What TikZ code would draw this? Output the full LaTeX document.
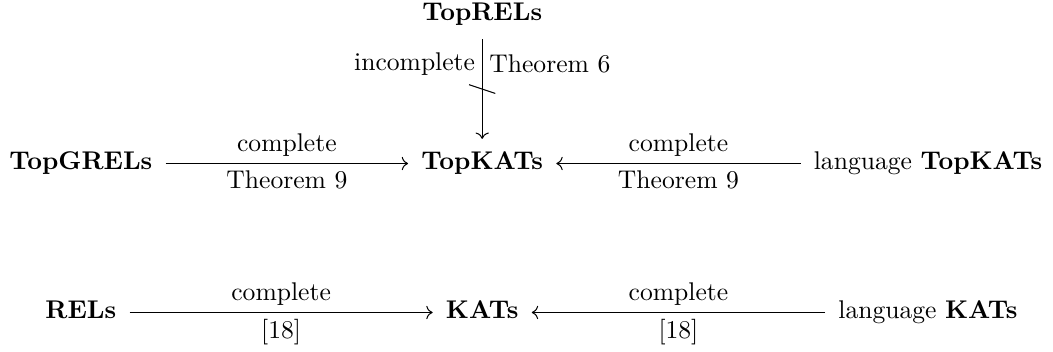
\documentclass[tikz,border=0pt]{standalone}
\usetikzlibrary{arrows.meta}

\begin{document}
\begin{tikzpicture}[every node/.style={align=center},
obj/.style={inner sep=5pt, text height=6.9pt, text depth=1.95pt},
lbl/.style={inner sep=2.6pt}]
\useasboundingbox (0,0) rectangle (14.456,-4.819);
%================================================================
% Objects
% --------------------------------
% Top row
\node[style=obj] (toprels) at (6.62,-0.2) {\textbf{TopRELs}};
% --------------------------------
% Middle row
\node[style=obj] (topgrels) at (1.11,-2.245) {\textbf{TopGRELs}};
\node[style=obj] (topkats) at (6.62,-2.245) {\textbf{TopKATs}};
\node[style=obj] (langtopkats) at (12.74,-2.245) {language \textbf{TopKATs}};
% --------------------------------
% Bottom row
\node[style=obj] (rels) at (1.11,-4.29) {\textbf{RELs}};
\node[style=obj] (kats) at (6.62,-4.29) {\textbf{KATs}};
\node[style=obj] (langkats) at (12.74,-4.29) {language \textbf{KATs}};

%================================================================
% Arrows
\draw[->] (toprels) -- node[style=lbl, left, pos=0.25] {incomplete}
  node[style=lbl, right, pos=0.25] {Theorem 6} coordinate[pos=0.5] (cut) (topkats);
\draw ([shift={(-0.18,0.06)}]cut) -- ([shift={(0.18,-0.06)}]cut);

\draw[->] (topgrels) -- node[style=lbl, above] {complete} node[style=lbl, below] {Theorem 9} (topkats);
\draw[->] (langtopkats) -- node[style=lbl, above] {complete} node[style=lbl, below] {Theorem 9} (topkats);

\draw[->] (rels) -- node[style=lbl, above] {complete} node[style=lbl, below] {[18]} (kats);
\draw[->] (langkats) -- node[style=lbl, above] {complete} node[style=lbl, below] {[18]} (kats);

%================================================================
\end{tikzpicture}
\end{document}
